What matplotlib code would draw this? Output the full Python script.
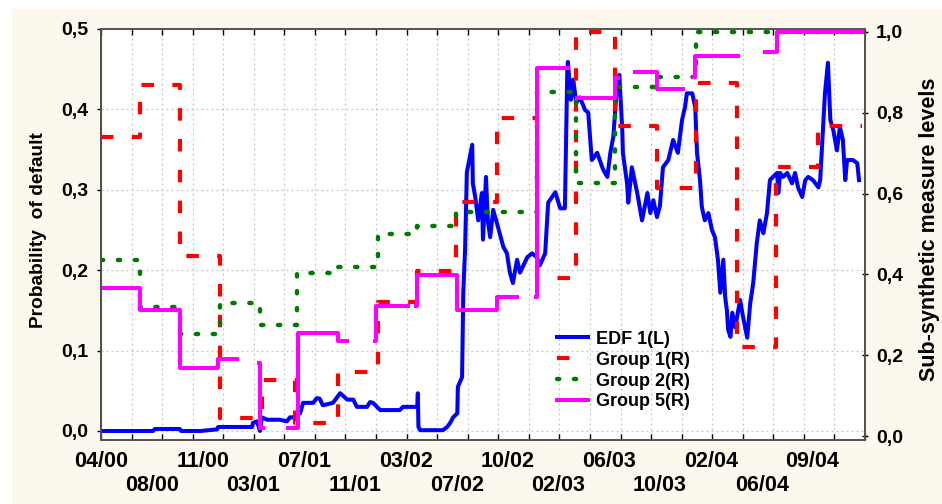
import numpy as np
import matplotlib.pyplot as plt
from matplotlib.patches import Rectangle
from matplotlib.ticker import FixedLocator, FuncFormatter

plt.rcParams['font.family'] = ['Liberation Sans', 'DejaVu Sans']
plt.rcParams['font.weight'] = 'bold'

# x axis is a trading-day index, a date label every 85 days
x_end = 1278
label_step = 85
date_labels = ["04/00", "08/00", "11/00", "03/01", "07/01", "11/01", "03/02", "07/02",
               "10/02", "02/03", "06/03", "10/03", "02/04", "06/04", "09/04"]

# EDF 1 (left axis)
edf_t = [0, 87, 90, 132, 134, 166, 194, 196, 253, 254, 261, 266, 269, 278, 299, 311, 316,
         321, 333, 338, 355, 361, 366, 371, 388, 400, 412, 422, 428, 445, 450, 455, 467,
         500, 505, 529, 530, 531, 534, 572, 579, 584, 589, 596, 597, 604, 606, 609, 612,
         621, 622, 626, 631, 637, 639, 644, 647, 651, 656, 664, 673, 679, 684, 689, 696,
         701, 713, 721, 729, 734, 743, 748, 760, 768, 776, 780, 781, 786, 790, 795, 801,
         810, 815, 821, 830, 840, 847, 852, 857, 863, 867, 872, 873, 880, 882, 888, 897,
         905, 914, 919, 924, 930, 935, 940, 949, 957, 965, 972, 977, 980, 989, 994, 997,
         1002, 1005, 1010, 1016, 1022, 1027, 1032, 1036, 1041, 1044, 1047, 1049, 1053,
         1056, 1061, 1069, 1074, 1081, 1086, 1091, 1097, 1102, 1108, 1114, 1119, 1124,
         1131, 1133, 1136, 1141, 1148, 1156, 1161, 1166, 1173, 1178, 1183, 1191, 1200,
         1203, 1206, 1211, 1216, 1220, 1225, 1231, 1236, 1241, 1245, 1248, 1253, 1258,
         1265, 1268]
edf_v = [0.0, 0.0, 0.0025, 0.0025, 0.0, 0.0, 0.002, 0.005, 0.005, 0.01, 0.012, 0.0, 0.017,
         0.014, 0.014, 0.012, 0.017, 0.017, 0.022, 0.035, 0.035, 0.041, 0.04, 0.032, 0.035,
         0.047, 0.039, 0.039, 0.03, 0.03, 0.036, 0.035, 0.026, 0.026, 0.03, 0.03, 0.047,
         0.005, 0.001, 0.001, 0.005, 0.01, 0.017, 0.022, 0.055, 0.067, 0.172, 0.225, 0.322,
         0.356, 0.308, 0.291, 0.262, 0.296, 0.238, 0.316, 0.262, 0.241, 0.275, 0.254, 0.229,
         0.221, 0.197, 0.184, 0.213, 0.197, 0.216, 0.221, 0.216, 0.206, 0.221, 0.284, 0.297,
         0.277, 0.277, 0.449, 0.459, 0.412, 0.437, 0.408, 0.415, 0.399, 0.396, 0.337, 0.346,
         0.325, 0.316, 0.346, 0.366, 0.428, 0.443, 0.374, 0.346, 0.308, 0.284, 0.328, 0.296,
         0.262, 0.296, 0.271, 0.287, 0.266, 0.28, 0.328, 0.337, 0.362, 0.346, 0.387, 0.403,
         0.42, 0.42, 0.403, 0.346, 0.312, 0.279, 0.262, 0.271, 0.25, 0.241, 0.213, 0.172,
         0.213, 0.167, 0.15, 0.126, 0.117, 0.147, 0.129, 0.163, 0.142, 0.116, 0.159, 0.184,
         0.234, 0.262, 0.246, 0.271, 0.312, 0.316, 0.321, 0.296, 0.321, 0.316, 0.321, 0.308,
         0.321, 0.303, 0.291, 0.312, 0.316, 0.312, 0.303, 0.312, 0.353, 0.42, 0.458, 0.387,
         0.374, 0.349, 0.378, 0.362, 0.312, 0.337, 0.337, 0.337, 0.333, 0.312]

# Group 1 (right axis), quarterly steps
g1_t = [0, 65, 132, 199, 269, 325, 397, 463, 529, 594, 663, 729, 795, 860, 930, 995,
        1064, 1129, 1200, 1273]
g1_v = [0.740, 0.869, 0.446, 0.045, 0.139, 0.032, 0.158, 0.332, 0.408, 0.579, 0.787,
        0.391, 1.0, 0.767, 0.614, 0.874, 0.220, 0.666, 0.767, 0.767]

# Group 2 (right axis)
g2_t = [0, 65, 132, 199, 266, 328, 397, 463, 529, 594, 729, 795, 860, 930, 995, 1273]
g2_v = [0.436, 0.319, 0.252, 0.329, 0.275, 0.403, 0.418, 0.500, 0.520, 0.554, 0.851,
        0.626, 0.864, 0.889, 1.0, 1.0]

# Group 5 (right axis), nan = no value
g5_t = [0, 65, 132, 196, 228, 264, 266, 271, 313, 330, 397, 412, 458, 460, 514, 527, 529,
        596, 663, 696, 727, 729, 781, 796, 860, 865, 893, 930, 973, 992, 994, 1066, 1111,
        1131, 1273]
g5_v = [0.366, 0.312, 0.168, 0.191, np.nan, 0.181, 0.020, np.nan, 0.020, 0.255, 0.235,
        np.nan, 0.235, 0.322, np.nan, 0.322, 0.399, 0.312, 0.344, np.nan, 0.344, 0.911,
        np.nan, 0.837, 0.886, np.nan, 0.901, 0.859, np.nan, 0.889, 0.941, np.nan, 0.950,
        1.0, 1.0]

cream = "#fdf8ed"
fig = plt.figure(figsize=(9.42, 5.04), dpi=100, facecolor="white")
fig.add_artist(Rectangle((12 / 942, 0), 1, 495 / 504, transform=fig.transFigure,
                         facecolor=cream, edgecolor="none", zorder=-10))

ax = fig.add_axes([101 / 942, 64 / 504, 764 / 942, 411 / 504])
ax.set_facecolor("white")
ax2 = ax.twinx()

l_edf, = ax.plot(edf_t, edf_v, color="#0000ff", lw=2.9, solid_joinstyle="round",
                 label="EDF 1(L)")
l_g1, = ax2.plot(g1_t, g1_v, color="#ff0000", lw=3, drawstyle="steps-post",
                 linestyle=(0, (3.0, 4.4)), label="Group 1(R)")
l_g2, = ax2.plot(g2_t, g2_v, color="#007a00", lw=3.2, drawstyle="steps-post",
                 linestyle=(0, (0.5, 3.3)), dash_capstyle="round", label="Group 2(R)")
l_g5, = ax2.plot(g5_t, g5_v, color="#ff00ff", lw=2.9, drawstyle="steps-post",
                 label="Group 5(R)")

ax.set_xlim(0, x_end)
ax.set_ylim(-0.0112, 0.5)
ax2.set_ylim(-0.0099, 1.0074)

comma = FuncFormatter(lambda v, p: f"{v:.1f}".replace(".", ","))
ax.set_yticks([0.0, 0.1, 0.2, 0.3, 0.4, 0.5])
ax.yaxis.set_major_formatter(comma)
ax2.set_yticks([0.0, 0.2, 0.4, 0.6, 0.8, 1.0])
ax2.yaxis.set_major_formatter(comma)
ax.tick_params(axis="y", labelsize=14, length=3, width=1, pad=6)
ax2.tick_params(axis="y", labelsize=14, length=4, width=1, direction="inout", pad=6)

# evenly spaced tick marks + gridlines, date labels on two rows
ax.xaxis.remove_overlapping_locs = False
ax.xaxis.set_major_locator(FixedLocator(np.linspace(0, x_end, 26)))
ax.xaxis.set_major_formatter(FuncFormatter(lambda v, p: ""))
label_pos = [i * label_step for i in range(len(date_labels))]
ax.xaxis.set_minor_locator(FixedLocator(label_pos))
ax.set_xticklabels([lab if i % 2 == 0 else "\n" + lab for i, lab in enumerate(date_labels)],
                   minor=True)
ax.tick_params(axis="x", which="major", direction="in", length=4, width=1,
               top=True, bottom=True)
ax.tick_params(axis="x", which="minor", length=0, labelsize=15.5, pad=8)

ax.grid(True, which="major", color="#c4c4c4", linestyle=(0, (1.5, 2.5)), lw=0.9)

for a in (ax, ax2):
    for s in a.spines.values():
        s.set_color("#555555")
        s.set_linewidth(1.3)
ax.spines["left"].set_color("black")

fig.text(39 / 942, 1 - 230 / 504, "Probability  of default", rotation=90, fontsize=13.8,
         fontweight="bold", ha="center", va="center")
fig.text(929 / 942, 1 - 229 / 504, "Sub-synthetic measure levels", rotation=90,
         fontsize=15.5, fontweight="bold", ha="center", va="center")

ax2.legend(handles=[l_edf, l_g1, l_g2, l_g5], loc="center", bbox_to_anchor=(0.684, 0.169),
           frameon=False, fontsize=13, handlelength=1.7, handletextpad=0.45,
           labelspacing=0.22, borderpad=0)

fig.savefig("out.png", dpi=100, facecolor=fig.get_facecolor())
